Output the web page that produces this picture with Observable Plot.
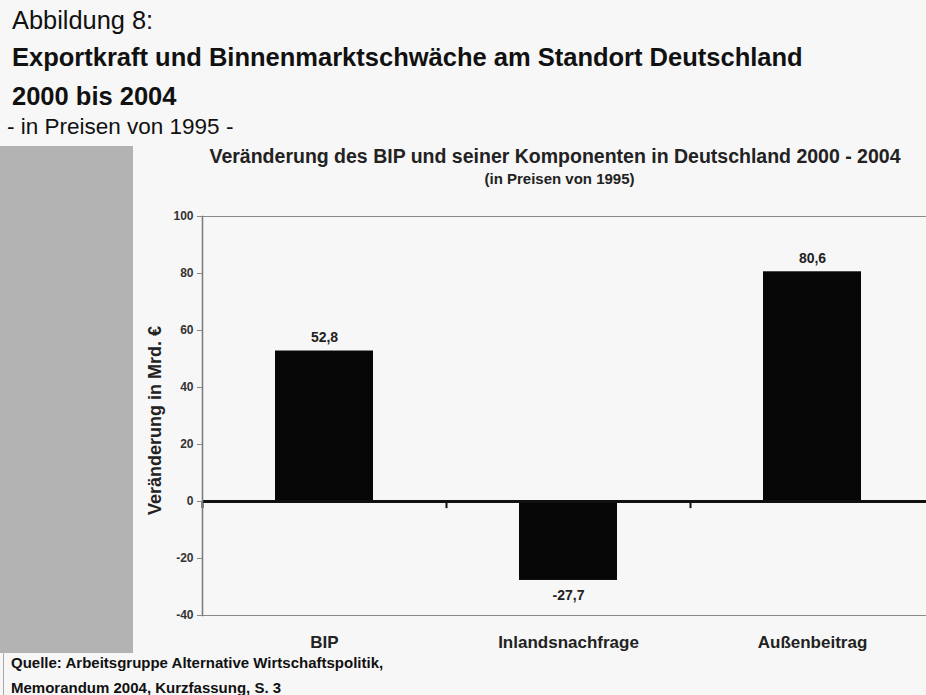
<!DOCTYPE html>
<html><head><meta charset="utf-8">
<script src="https://cdn.jsdelivr.net/npm/d3@7"></script>
<script src="https://cdn.jsdelivr.net/npm/@observablehq/plot@0.6"></script>
<style>
html,body{margin:0;padding:0;background:#f7f7f7;overflow:hidden;width:926px;height:695px;}
body{position:relative;font-family:"Liberation Sans",Arial,sans-serif;color:#111;}
.t{position:absolute;white-space:nowrap;line-height:1;}
#gray{position:absolute;left:0;top:146px;width:133px;height:507px;background:#b3b3b3;}
#capline{position:absolute;left:3px;top:653px;width:1px;height:42px;background:#aaa;}
#chart{position:absolute;left:0;top:146px;width:934px;}
#chart svg{max-width:none !important;}
</style></head><body>
<div class="t" style="left:12px;top:8px;font-size:25.4px">Abbildung 8:</div>
<div class="t" style="left:12px;top:45px;font-size:25.5px;font-weight:bold">Exportkraft und Binnenmarktschwäche am Standort Deutschland</div>
<div class="t" style="left:12px;top:84px;font-size:25.5px;font-weight:bold">2000 bis 2004</div>
<div class="t" style="left:7px;top:116px;font-size:22.5px">- in Preisen von 1995 -</div>
<div id="gray"></div>
<div id="chart"></div>
<div id="capline"></div>
<div class="t" style="left:11px;top:655px;font-size:15px;font-weight:bold">Quelle: Arbeitsgruppe Alternative Wirtschaftspolitik,</div>
<div class="t" style="left:11px;top:680px;font-size:15px;font-weight:bold">Memorandum 2004, Kurzfassung, S. 3</div>
<script>
const categories = ["BIP", "Inlandsnachfrage", "Außenbeitrag"];
const values = [52.8, -27.7, 80.6];
const yTicks = [-40, -20, 0, 20, 40, 60, 80, 100];
const chartTitle = "Veränderung des BIP und seiner Komponenten in Deutschland 2000 - 2004";
const chartSubtitle = "(in Preisen von 1995)";
const yLabel = "Veränderung in Mrd. €";

const data = categories.map((c, i) => ({cat: c, value: values[i]}));
const fmt = v => v.toFixed(1).replace(".", ",");

const plot = Plot.plot({
  width: 934, height: 509,
  marginTop: 70, marginBottom: 40, marginLeft: 202, marginRight: 0,
  style: {fontFamily: "'Liberation Sans', Arial, sans-serif", background: "transparent", overflow: "visible", color: "#1a1a1a", maxWidth: "none"},
  x: {type: "band", domain: categories, paddingInner: 0.6, paddingOuter: 0.3},
  y: {domain: [-40, 100]},
  marks: [
    Plot.frame({anchor: "top", stroke: "#8a8a8a"}),
    Plot.frame({anchor: "bottom", stroke: "#8a8a8a"}),
    Plot.barY(data, {x: "cat", y: "value", fill: "#070707"}),
    Plot.ruleY([0], {stroke: "#111", strokeWidth: 3}),
    Plot.ruleX(categories, {x: d => d, y1: 0, y2: -2.5, dx: -122, stroke: "#111", strokeWidth: 2}),
    Plot.frame({anchor: "left", stroke: "#7a7a7a", strokeWidth: 1.5}),
    Plot.axisY({ticks: yTicks, tickSize: 5, tickPadding: 4, fontSize: 12, fontWeight: "bold", fill: "#333", stroke: "#888", label: null, tickFormat: d => String(d)}),
    Plot.axisX({tickSize: 0, tickPadding: 20, fontSize: 17, fontWeight: "bold", fill: "#222", label: null}),
    Plot.text(data.filter(d => d.value >= 0), {x: "cat", y: "value", text: d => fmt(d.value), lineAnchor: "bottom", dy: -9, fontSize: 14, fontWeight: "bold", fill: "#222"}),
    Plot.text(data.filter(d => d.value < 0), {x: "cat", y: "value", text: d => fmt(d.value), lineAnchor: "top", dy: 9.5, fontSize: 14, fontWeight: "bold", fill: "#222"}),
    Plot.text([chartTitle], {frameAnchor: "top", text: d => d, textAnchor: "middle", dx: -13.5, dy: -54, lineAnchor: "bottom", fontSize: 19.5, fontWeight: "bold", fill: "#222"}),
    Plot.text([chartSubtitle], {frameAnchor: "top", text: d => d, textAnchor: "middle", dx: -9, dy: -33, lineAnchor: "bottom", fontSize: 15, fontWeight: "bold", fill: "#222"}),
    Plot.text([yLabel], {frameAnchor: "left", text: d => d, textAnchor: "middle", rotate: -90, dx: -42, dy: 4.5, lineAnchor: "bottom", fontSize: 18, fontWeight: "bold", fill: "#222"})
  ]
});
document.getElementById("chart").appendChild(plot);
</script>
</body></html>
